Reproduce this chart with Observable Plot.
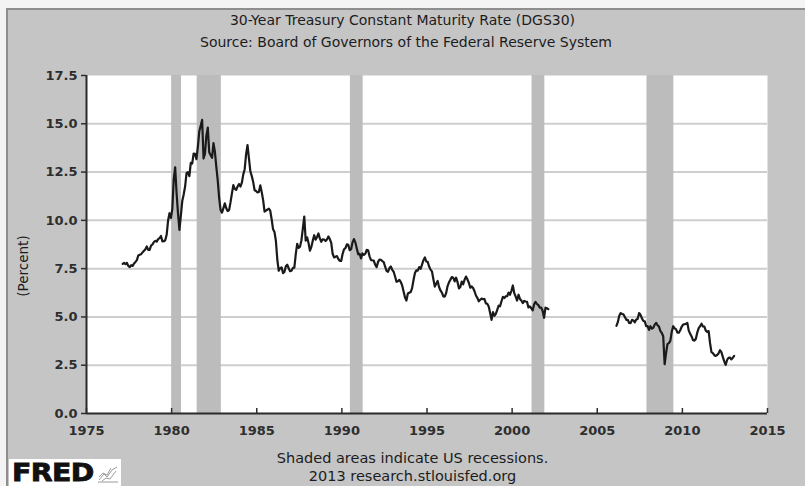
<!DOCTYPE html>
<html><head><meta charset="utf-8">
<script src="https://cdn.jsdelivr.net/npm/d3@7"></script>
<script src="https://cdn.jsdelivr.net/npm/@observablehq/plot@0.6"></script>
<style>
html,body{margin:0;padding:0;background:#fff;}
#wrap{position:relative;width:805px;height:486px;overflow:hidden;background:#f4f4f4;font-family:"DejaVu Sans",sans-serif;}
#frame{position:absolute;left:6px;top:8px;right:0;bottom:0;background:#c5c5c5;border-top:2px solid #8e8e8e;border-left:2px solid #8e8e8e;}
.t{position:absolute;left:7px;right:0;text-align:center;font-size:14px;line-height:16px;color:#1c1c1c;white-space:nowrap;}
#chart{position:absolute;left:0;top:0;}
#ylab{position:absolute;left:23px;top:266px;transform:translate(-50%,-50%) rotate(-90deg);font-size:13.5px;color:#1c1c1c;white-space:nowrap;}
#logo{position:absolute;left:9px;top:459px;width:112px;height:27px;background:#fff;}
#logo span{position:absolute;left:3px;top:1px;font:bold 24px/26px "DejaVu Sans",sans-serif;letter-spacing:-0.5px;color:#111;transform-origin:0 0;transform:scaleX(1.18);-webkit-text-stroke:0.8px #111;}
#logo svg{position:absolute;left:88px;top:6px;}
</style></head><body>
<div id="wrap">
  <div id="frame"></div>
  <div class="t" style="top:12px;left:0">30-Year Treasury Constant Maturity Rate (DGS30)</div>
  <div class="t" style="top:34px">Source: Board of Governors of the Federal Reserve System</div>
  <div id="chart"></div>
  <div id="ylab">(Percent)</div>
  <div class="t" style="top:450px;left:20px;font-size:14.5px">Shaded areas indicate US recessions.</div>
  <div class="t" style="top:468px;left:20px;font-size:14.5px">2013 research.stlouisfed.org</div>
  <div id="logo"><span>FRED</span>
    <svg width="22" height="18" viewBox="0 0 22 18"><path d="M1 17 L21 17 M2 15 L7 9 L10 12 L15 5 L20 2 M2 12 L6 8 L10 10 L14 3 M5 16 L9 13 L13 14 L19 6" fill="none" stroke="#9a9a9a" stroke-width="1"/></svg>
  </div>
</div>
<script>
// Monthly values, Feb 1977 .. Feb 2002 (percent)
const ratesA = [
  7.75, 7.80, 7.73, 7.80, 7.64, 7.58, 7.68, 7.64, 7.77, 7.85, 7.94,
  8.18, 8.22, 8.25, 8.34, 8.43, 8.50, 8.65, 8.47, 8.47, 8.69, 8.75, 8.88,
  8.94, 8.90, 9.03, 9.08, 9.19, 8.91, 8.92, 8.97, 9.25, 9.99, 10.37, 10.12,
  10.60, 12.15, 12.75, 11.40, 10.36, 9.50, 10.24, 11.00, 11.34, 11.75, 12.44, 12.49,
  12.29, 12.98, 12.94, 13.46, 13.44, 13.17, 13.82, 14.61, 14.90, 15.20, 13.20, 13.45,
  14.40, 14.80, 13.53, 13.37, 13.24, 14.00, 13.55, 12.77, 12.07, 11.17, 10.54, 10.40,
  10.63, 10.88, 10.63, 10.48, 10.53, 10.93, 11.40, 11.82, 11.63, 11.58, 11.75, 11.88,
  11.75, 11.95, 12.38, 12.65, 13.43, 13.90, 13.21, 12.54, 12.29, 11.98, 11.56, 11.52,
  11.45, 11.47, 11.81, 11.47, 11.05, 10.45, 10.50, 10.56, 10.61, 10.50, 10.06, 9.54,
  9.40, 8.93, 7.96, 7.39, 7.52, 7.57, 7.27, 7.33, 7.62, 7.70, 7.52, 7.37,
  7.39, 7.54, 7.55, 8.25, 8.78, 8.57, 8.64, 8.97, 9.59, 10.20, 8.95, 9.12,
  8.83, 8.43, 8.63, 8.95, 9.23, 9.00, 9.14, 9.32, 9.06, 8.89, 9.02, 9.01,
  8.93, 9.01, 9.17, 9.03, 8.83, 8.27, 8.08, 8.12, 8.15, 8.00, 7.90, 7.90,
  8.26, 8.50, 8.56, 8.76, 8.73, 8.46, 8.50, 8.86, 9.03, 8.86, 8.54, 8.24,
  8.27, 8.03, 8.29, 8.21, 8.27, 8.47, 8.45, 8.14, 7.95, 7.93, 7.92, 7.70,
  7.58, 7.85, 7.97, 7.96, 7.89, 7.84, 7.60, 7.39, 7.34, 7.53, 7.61, 7.44,
  7.34, 7.09, 6.82, 6.85, 6.92, 6.81, 6.63, 6.32, 6.00, 5.85, 6.21, 6.25,
  6.29, 6.49, 6.91, 7.27, 7.41, 7.40, 7.58, 7.49, 7.71, 7.94, 8.08, 7.87,
  7.85, 7.61, 7.45, 7.36, 6.95, 6.57, 6.72, 6.86, 6.55, 6.37, 6.26, 6.06,
  6.05, 6.24, 6.60, 6.79, 6.93, 7.06, 7.03, 6.84, 7.03, 6.81, 6.48, 6.55,
  6.83, 6.69, 6.93, 7.09, 6.94, 6.77, 6.51, 6.58, 6.50, 6.33, 6.11, 5.99,
  5.81, 5.89, 5.95, 5.92, 5.93, 5.70, 5.68, 5.54, 5.20, 4.85, 5.25, 5.06,
  5.16, 5.37, 5.58, 5.55, 5.81, 6.04, 5.98, 6.07, 6.07, 6.26, 6.15, 6.35,
  6.63, 6.23, 6.05, 5.85, 6.15, 5.93, 5.85, 5.72, 5.83, 5.80, 5.78, 5.49,
  5.54, 5.45, 5.34, 5.65, 5.78, 5.67, 5.61, 5.48, 5.48, 5.32, 4.95, 5.48,
  5.45, 5.40
];
const startA = [1977, 1]; // year, month index (0 = Jan)

// Monthly values, Feb 2006 .. Jan 2013 (percent)
const ratesB = [
  4.54, 4.73, 5.06, 5.20, 5.15, 5.13, 5.00, 4.85, 4.85, 4.69, 4.68,
  4.85, 4.82, 4.72, 4.87, 4.90, 5.20, 5.11, 4.93, 4.79, 4.77, 4.52, 4.53,
  4.33, 4.52, 4.39, 4.44, 4.60, 4.69, 4.57, 4.50, 4.27, 4.17, 4.00, 2.55,
  3.13, 3.59, 3.64, 3.76, 4.23, 4.52, 4.41, 4.37, 4.19, 4.19, 4.31, 4.49,
  4.60, 4.62, 4.64, 4.69, 4.29, 4.13, 3.99, 3.80, 3.77, 3.87, 4.19, 4.42,
  4.52, 4.65, 4.51, 4.50, 4.29, 4.23, 4.27, 3.65, 3.18, 3.13, 3.02, 2.98,
  3.03, 3.11, 3.28, 3.18, 2.93, 2.70, 2.52, 2.77, 2.88, 2.90, 2.80, 2.88,
  2.98
];
const startB = [2006, 1];

// NBER recessions (decimal years)
const recessionStart = [1980.0, 1981.5, 1990.5, 2001.17, 2007.92];
const recessionEnd   = [1980.58, 1982.92, 1991.25, 2001.92, 2009.5];

const xTicks = [1975, 1980, 1985, 1990, 1995, 2000, 2005, 2010, 2015];
const yTicks = [0, 2.5, 5, 7.5, 10, 12.5, 15, 17.5];
const gridTicks = [2.5, 5, 7.5, 10, 12.5, 15];

const toSeries = (vals, [y0, m0], period) =>
  vals.map((v, i) => ({x: y0 + (m0 + i + 0.5) / 12, y: v, period}));
const series = [...toSeries(ratesA, startA, "A"), ...toSeries(ratesB, startB, "B")];
const recessions = recessionStart.map((s, i) => ({start: s, end: recessionEnd[i]}));

const chart = Plot.plot({
  width: 805, height: 486,
  marginLeft: 86, marginRight: 38, marginTop: 75, marginBottom: 73,
  style: {background: "transparent", fontFamily: "DejaVu Sans", overflow: "visible"},
  x: {domain: [1975, 2015]},
  y: {domain: [0, 17.5]},
  marks: [
    Plot.frame({fill: "white", stroke: null}),
    Plot.gridY(gridTicks, {stroke: "#cecece", strokeOpacity: 1, strokeWidth: 2}),
    Plot.rect(recessions, {x1: "start", x2: "end", fill: "#bcbcbc"}),
    Plot.line(series, {x: "x", y: "y", z: "period", stroke: "#1a1a1a", strokeWidth: 2.2, strokeLinejoin: "round"}),
    Plot.ruleX([1975], {stroke: "#2a2a2a", strokeWidth: 2}),
    Plot.ruleY([0], {stroke: "#2a2a2a", strokeWidth: 2}),
    Plot.axisY(yTicks, {tickSize: 5, tickPadding: 4, tickFormat: d => d.toFixed(1), fontSize: 13, fontWeight: "bold", color: "#2e2e2e", strokeWidth: 1.5, label: null}),
    Plot.axisX(xTicks, {tickSize: -5, tickPadding: 17, tickFormat: d => String(d), fontSize: 13, fontWeight: "bold", color: "#2e2e2e", strokeWidth: 1.5, label: null})
  ]
});
document.getElementById("chart").appendChild(chart);
</script>
</body></html>
